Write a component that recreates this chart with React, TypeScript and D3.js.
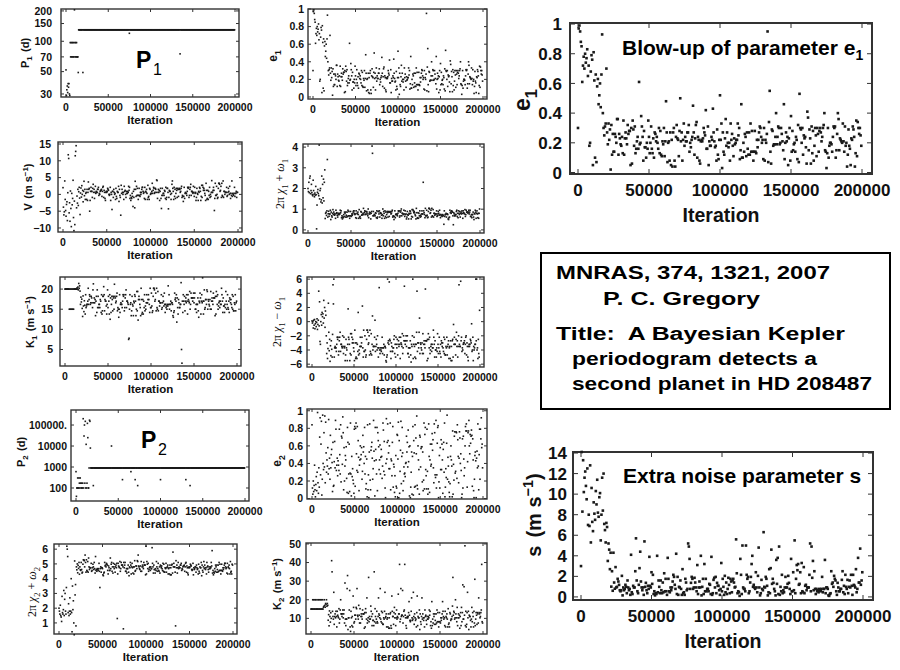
import React from "react";
import * as d3 from "d3";

// MCMC chain, one stored sample every STEP iterations (400 samples, 0 .. 199500)
const STEP = 500;
const X_TICKS = [0, 50000, 100000, 150000, 200000];

const P1_DAYS = [
  52, 29, 33, 36, 31, 38, 35, 38, 30, 29, 97, 70, 97, 70, 97, 70, 97, 70, 97, 70, 205, 97, 70, 97, 70,
  97, 70, 70, 70, 49, 130, 130, 130, 130, 130, 130, 130, 130, 130, 130, 49, 130, 130, 130, 130, 130, 130, 130, 130, 130,
  130, 130, 130, 130, 130, 130, 130, 130, 130, 130, 130, 130, 130, 130, 130, 130, 130, 130, 130, 130, 130, 130, 130, 130, 130,
  130, 130, 130, 130, 130, 130, 130, 130, 130, 130, 130, 130, 130, 130, 130, 130, 130, 130, 130, 130, 130, 130, 130, 130, 130,
  130, 130, 130, 130, 130, 130, 130, 130, 130, 130, 130, 130, 130, 130, 130, 130, 130, 130, 130, 130, 130, 130, 130, 130, 130,
  130, 130, 130, 130, 130, 130, 130, 130, 130, 130, 130, 130, 130, 130, 130, 130, 130, 130, 130, 130, 130, 130, 130, 130, 130,
  120, 130, 130, 130, 130, 130, 130, 130, 130, 130, 130, 130, 130, 130, 130, 130, 130, 130, 130, 130, 130, 130, 130, 130, 130,
  130, 130, 130, 130, 130, 130, 130, 130, 130, 130, 130, 130, 130, 130, 130, 130, 130, 130, 130, 130, 130, 130, 130, 130, 130,
  130, 130, 130, 130, 130, 130, 130, 130, 130, 130, 130, 130, 130, 130, 130, 130, 130, 130, 130, 130, 130, 130, 130, 130, 130,
  130, 130, 130, 130, 130, 130, 130, 130, 130, 130, 130, 130, 130, 130, 130, 130, 130, 130, 130, 130, 130, 130, 130, 130, 130,
  130, 130, 130, 130, 130, 130, 130, 130, 130, 130, 130, 130, 130, 130, 130, 130, 130, 130, 130, 130, 75, 130, 130, 130, 130,
  130, 130, 130, 130, 130, 130, 130, 130, 130, 130, 130, 130, 130, 130, 130, 130, 130, 130, 130, 130, 130, 130, 130, 130, 130,
  130, 130, 130, 130, 130, 130, 130, 130, 130, 130, 130, 130, 130, 130, 130, 130, 130, 130, 130, 130, 130, 130, 130, 130, 130,
  130, 130, 130, 130, 130, 130, 130, 130, 130, 130, 130, 130, 130, 130, 130, 130, 130, 130, 130, 130, 130, 130, 130, 130, 130,
  130, 130, 130, 130, 130, 130, 130, 130, 130, 130, 130, 130, 130, 130, 130, 130, 130, 130, 130, 130, 130, 130, 130, 130, 130,
  130, 130, 130, 130, 130, 130, 130, 130, 130, 130, 130, 130, 130, 130, 130, 130, 130, 130, 130, 130, 130, 130, 130, 130, 130,
];

const E1 = [
  .30, .97, .99, .95, .88, .85, .61, .72, .78, .70, .80, .74, .77, .83, .65, .72, .18, .20, .68, .79, .76, .05, .81, .62, .10,
  .66, .07, .58, .63, .46, .52, .60, .44, .66, .93, .40, .30, .25, .31, .33, .70, .27, .19, .33, .22, .29, .02, .32, .12, .26,
  .14, .14, .26, .24, .20, .36, .36, .12, .26, .23, .19, .18, .24, .13, .35, .12, .23, .27, .23, .19, .32, .26, .28, .28, .05,
  .30, .06, .35, .29, .18, .31, .13, .16, .21, .24, .16, .61, .19, .20, .38, .31, .24, .08, .28, .17, .17, .10, .20, .16, .35,
  .24, .13, .20, .31, .16, .13, .23, .10, .27, .26, .21, .24, .20, .16, .30, .13, .28, .12, .11, .21, .19, .30, .11, .21, .48,
  .27, .07, .20, .21, .08, .27, .05, .22, .04, .27, .30, .08, .04, .24, .32, .23, .22, .11, .28, .50, .21, .27, .08, .22, .33,
  .18, .24, .21, .21, .27, .27, .32, .14, .20, .17, .22, .24, .45, .27, .12, .23, .32, .34, .10, .24, .22, .08, .06, .21, .22,
  .21, .23, .30, .27, .25, .42, .16, .16, .31, .05, .21, .18, .18, .24, .22, .43, .27, .21, .17, .18, .08, .29, .12, .09, .22,
  .52, .22, .33, .03, .27, .14, .12, .23, .36, .18, .27, .20, .17, .20, .08, .33, .22, .26, .18, .11, .23, .19, .20, .22, .22,
  .33, .25, .30, .09, .15, .46, .10, .10, .20, .14, .26, .24, .11, .27, .16, .12, .27, .12, .33, .14, .28, .14, .08, .14, .28,
  .14, .13, .22, .17, .22, .27, .31, .30, .24, .20, .22, .09, .30, .08, .22, .20, .26, .95, .07, .34, .55, .14, .06, .29, .28,
  .18, .19, .19, .24, .40, .19, .24, .31, .30, .19, .20, .30, .26, .21, .15, .46, .09, .20, .27, .21, .24, .05, .23, .30, .08,
  .38, .14, .28, .15, .19, .20, .14, .24, .22, .09, .32, .07, .53, .30, .29, .20, .30, .12, .25, .23, .24, .17, .06, .41, .37,
  .15, .29, .23, .06, .31, .13, .28, .08, .18, .30, .25, .11, .30, .26, .14, .28, .30, .27, .21, .24, .30, .32, .40, .15, .14,
  .03, .13, .30, .10, .18, .20, .20, .19, .14, .24, .31, .30, .31, .10, .15, .26, .40, .36, .15, .23, .22, .21, .20, .33, .21,
  .14, .31, .18, .20, .04, .12, .29, .18, .16, .05, .23, .22, .31, .29, .24, .04, .13, .35, .11, .34, .30, .26, .30, .25, .18,
];

const V_OFFSET = [
  2.0, -3.8, -6.1, -5.2, 4.0, -1.5, -4.8, -6.5, -3.0, -2.2, -7.8, 0.5, 11.8, 10.7, -5.5, -2.5, -8.0, 1.0, -4.2, -9.6, 0.3, -3.1, -1.2, 4.2, -6.9,
  -10.8, -2.0, -9.0, 11.5, 12.8, 14.5, -4.0, -0.5, -2.6, 1.5, -3.3, 0.8, 2.1, -1.1, -6.0, 0.4, 1.9, -0.8, 2.6, 0.0, 1.2, -2.2, 0.9, 3.9, -0.4,
  1.5, -1.5, 0.3, 0.6, -1.5, 1.5, -1.8, 0.6, 3.7, 1.5, 1.8, -5.0, -1.8, 0.9, 2.1, 0.9, 0.9, -0.9, 1.8, 3.0, 0.6, 1.5, -1.2, 0.6, 2.4,
  0.3, 0.9, 0.6, 0.6, 1.5, 1.5, 2.1, -0.3, 0.3, 0.0, 0.9, 1.2, 1.2, 1.5, -0.6, 0.9, 2.1, 2.4, -0.9, 1.2, 0.6, -1.2, -1.8, 0.6, 0.9,
  0.6, 0.9, 1.8, 1.5, 1.2, 0.0, -0.3, 0.0, 2.1, -1.8, 0.6, 0.0, -4.5, 0.9, 0.9, -0.9, 1.5, 0.6, 0.0, 0.3, -1.5, 1.8, -0.6, -1.2, 0.9,
  0.6, 0.6, 2.4, -2.1, 1.5, -0.3, -0.9, -6.2, 2.7, 0.3, 1.5, 0.6, 0.0, 0.6, -1.5, 2.4, 0.9, 1.2, 0.0, -0.9, 0.9, 0.3, 0.3, 0.9, 0.6,
  2.4, 1.2, 2.1, -1.2, -0.3, -1.8, -0.9, -1.2, 0.3, -0.6, -3.6, 0.9, -0.9, 1.5, -4.0, 3.9, 1.5, -0.6, 2.4, -0.3, 1.8, -0.3, -1.5, -0.3, 1.8,
  -0.3, -0.6, 0.6, 0.0, 0.6, 1.5, 2.1, 2.1, 0.9, 0.3, 0.6, -1.2, 2.1, -1.5, 0.9, 0.6, 1.5, 0.3, -1.5, 2.7, -0.9, -0.6, -1.5, 1.8, 1.5,
  0.0, 0.3, 0.3, 0.9, 3.3, 0.3, 1.2, 2.1, 1.8, 0.3, 0.6, 1.8, 1.5, 0.6, 4.3, 4.1, -1.2, 0.6, 1.5, 0.6, 1.2, -1.8, 0.9, 1.8, -1.2,
  -4.2, -0.3, 1.8, -0.3, 0.3, 0.3, -0.3, 1.2, 0.9, -1.2, 2.1, -1.5, -0.9, 1.8, 1.8, 0.6, -4.3, -0.9, 1.2, 0.9, 0.9, 0.0, -1.5, 0.3, 3.0,
  4.0, 1.8, 0.9, -1.5, 2.1, -0.6, 1.5, -1.2, 0.3, 1.8, 1.2, -0.9, 1.8, 1.5, -0.6, 1.5, 1.8, 1.5, 0.6, 0.9, 1.8, 2.4, -0.9, -0.3, -0.6,
  -2.1, -0.6, 2.1, -1.2, 0.3, 0.6, 0.3, 0.3, -0.3, 0.9, 2.1, 1.8, 2.1, -0.9, -0.3, 1.5, 2.1, 3.0, -0.3, 0.9, 0.9, 0.6, 0.3, 2.4, 0.6,
  -0.6, 2.1, 0.3, 0.6, -1.8, -0.9, 1.8, 0.3, 0.0, -1.8, 0.9, 0.6, 2.1, 1.8, 0.9, -1.8, -0.6, 2.7, -0.9, 2.7, 2.1, 1.2, 1.8, 1.2, 0.3,
  -0.3, -1.8, 3.3, 1.2, -1.5, -1.2, 1.2, -1.5, 0.9, -0.3, 2.1, -0.9, 0.0, -0.6, 0.6, 4.1, 0.6, 0.6, 1.2, 2.1, 1.2, -4.8, -1.2, 3.3, -0.3,
  -0.3, 2.4, 0.0, -1.2, -0.9, 1.8, 3.3, 3.3, 3.0, 0.9, 1.2, 2.4, -0.9, 3.3, -0.3, -0.6, 4.0, -0.9, 0.9, 0.9, 0.0, 0.6, 0.6, 0.6, 2.1,
  -0.6, -0.3, 0.6, 1.8, 0.9, 0.0, 2.4, 0.3, -1.2, 0.3, -0.3, 4.0, -0.6, 0.3, 0.0, -0.3, 0.3, 2.1, -0.6, 0.3, 0.3, 0.9, -0.9, 0.6, 0.6,
];

const PHASE1_SUM = [
  2.0, 1.85, 2.3, 1.8, 2.5, 2.6, 1.75, 1.9, 2.2, 1.8, 1.7, 1.65, 2.4, 1.9, 1.72, 1.6, 1.78, 1.68, 2.1, 1.7, 0.05, 1.2, 1.82, 1.95, 1.75,
  1.65, 4.1, 1.5, 1.9, 2.0, 1.35, 1.45, 2.6, 1.3, 2.2, 1.55, 2.45, 1.4, 2.3, 2.9, 0.55, 0.8, 0.85, 0.7, 0.92, 3.4, 0.62, 0.78, 0.9, 0.66,
  .77, .77, .95, .50, .86, .68, .62, .80, .98, .74, .86, .77, .71, .77, .56, .95, .80, .83, .71, .62, .80, .74, .74, .80, .77,
  .95, .83, .92, .59, .68, .53, .62, .59, .74, .65, .86, .80, .62, .86, .71, .62, .86, .65, .95, .68, .89, .68, .56, .68, .89,
  .68, .65, .77, .71, .77, .86, .92, .92, .80, .74, .77, .59, .92, .56, .80, .77, .86, .74, .56, .98, .62, .65, .56, .89, .86,
  .71, .74, .74, .80, 1.04, .74, .83, .92, .89, .74, .77, .89, .86, .77, .68, 1.01, .59, .77, .86, .77, .83, .53, .80, .89, 4.05,
  3.7, .68, .89, .68, .74, .74, .68, .83, .80, .59, .92, .56, .62, .89, .89, .77, .92, .62, .83, .80, .80, .71, .56, .74, 1.01,
  .68, .89, .80, .56, .92, .65, .86, .59, .74, .89, .83, .62, .89, .86, .65, .86, .89, .86, .77, .80, .89, .95, .62, .68, .65,
  .50, .65, .92, .59, .74, .77, .74, .74, .68, .80, .92, .89, .92, .62, .68, .86, .92, 1.01, .68, .80, .80, .77, .74, .95, .77,
  .65, .92, .74, .77, .53, .62, .89, .74, .71, .53, .80, .77, .92, .89, .80, .53, .65, .98, .62, .98, .92, .83, .89, .83, .74,
  .68, .53, 1.04, .83, .56, .59, .83, .56, .80, .68, .92, .62, .71, .65, .77, .92, .77, .77, 2.3, .92, .83, .74, .59, 1.04, .68,
  .68, .95, .71, .59, .62, .89, 1.04, 1.04, 1.01, .80, .83, .95, .62, 1.04, .68, .65, .98, .62, .80, .80, .71, .77, .77, .77, .92,
  .65, .68, .77, .89, .80, .71, .95, .74, .59, .74, .68, .71, .65, .74, .71, .68, .27, .92, .65, .74, .74, .80, .62, .77, .77,
  .74, .53, .50, .59, .62, .95, .83, .86, .80, .92, .89, .86, .68, .25, .83, .77, .68, .68, .74, .74, .89, .95, .65, .80, .59,
  .92, .80, .74, .89, .62, .80, .86, .77, .92, .80, .56, .92, .83, .80, .77, .98, .65, .74, .95, .86, .86, .86, .80, .86, .95,
  .77, .86, .95, .65, .65, .74, .59, .74, .74, .86, .62, .50, .80, .77, .95, .86, .56, .80, .92, .77, .59, .80, .56, .80, 1.01,
];

const K1_AMP = [
  20, 20, 20, 20, 20, 20, 20, 20, 20, 20, 15, 20, 15, 20, 15, 20, 15, 20, 15, 20, 15, 20, 20, 20, 20,
  20, 20, 20, 20.3, 20, 20.5, 19.8, 21.4, 20.2, 20.8, 19.5, 16.2, 18.0, 16.8, 17.5, 15.2, 13.2, 18.3, 15.8, 14.4, 17.1, 16.0, 13.8, 18.6, 15.4,
  15.8, 16.2, 16.2, 17.0, 20.2, 16.2, 17.4, 18.6, 18.2, 16.2, 16.6, 18.2, 17.8, 16.6, 15.4, 19.8, 21.3, 16.6, 17.8, 16.6, 17.4, 13.4, 17.0, 18.2, 14.2,
  19.8, 15.4, 18.2, 15.4, 16.2, 16.2, 15.4, 17.4, 17.0, 14.2, 18.6, 13.8, 14.6, 18.2, 18.2, 20.6, 18.6, 14.6, 17.4, 17.0, 17.0, 15.8, 13.8, 16.2, 19.8,
  15.4, 18.2, 17.0, 13.8, 18.6, 12.5, 17.8, 14.2, 16.2, 18.2, 17.4, 14.6, 18.2, 17.8, 15.0, 21.2, 18.2, 17.8, 16.6, 17.0, 18.2, 19.0, 14.6, 15.4, 15.0,
  13.0, 15.0, 18.6, 14.2, 16.2, 16.6, 16.2, 16.2, 15.4, 17.0, 18.6, 18.2, 18.6, 14.6, 15.4, 17.8, 18.6, 19.8, 15.4, 17.0, 17.0, 16.6, 16.2, 7.5, 7.8,
  15.0, 18.6, 16.2, 16.6, 13.4, 14.6, 18.2, 16.2, 15.8, 13.4, 17.0, 16.6, 18.6, 18.2, 17.0, 13.4, 15.0, 19.4, 14.6, 19.4, 12.3, 17.4, 18.2, 17.4, 16.2,
  15.4, 13.4, 20.2, 17.4, 13.8, 14.2, 17.4, 13.8, 17.0, 15.4, 18.6, 14.6, 15.8, 15.0, 16.6, 18.6, 16.6, 16.6, 17.4, 18.6, 17.4, 16.2, 14.2, 20.2, 15.4,
  15.4, 19.0, 15.8, 14.2, 14.6, 18.2, 20.2, 20.2, 19.8, 17.0, 17.4, 19.0, 14.6, 20.2, 15.4, 15.0, 19.4, 14.6, 17.0, 17.0, 15.8, 16.6, 16.6, 16.6, 18.6,
  15.0, 15.4, 16.6, 18.2, 17.0, 15.8, 19.0, 16.2, 14.2, 16.2, 15.4, 15.8, 15.0, 16.2, 15.8, 20.8, 16.2, 18.6, 15.0, 16.2, 16.2, 17.0, 14.6, 16.6, 16.6,
  16.2, 13.4, 13.0, 14.2, 14.6, 19.0, 17.4, 17.8, 17.0, 18.6, 11.8, 17.8, 15.4, 13.8, 17.4, 16.6, 15.4, 15.4, 16.2, 16.2, 21.6, 5.0, 1.6, 17.0, 14.2,
  18.6, 17.0, 16.2, 18.2, 14.6, 17.0, 17.8, 16.6, 18.6, 17.0, 13.8, 18.6, 17.4, 17.0, 16.6, 19.4, 15.0, 16.2, 19.0, 17.8, 17.8, 17.8, 17.0, 17.8, 19.0,
  16.6, 17.8, 19.0, 15.0, 15.0, 16.2, 14.2, 16.2, 16.2, 17.8, 14.6, 13.0, 17.0, 16.6, 19.0, 17.8, 13.8, 17.0, 18.6, 16.6, 22.8, 17.0, 13.8, 17.0, 19.8,
  15.0, 15.4, 17.4, 17.4, 16.2, 19.8, 19.4, 15.0, 17.4, 17.0, 16.2, 15.8, 17.4, 15.0, 19.4, 15.0, 17.0, 17.8, 17.0, 16.2, 19.0, 17.8, 17.8, 17.8, 13.4,
  18.2, 13.8, 19.4, 18.2, 16.2, 18.6, 15.0, 15.8, 16.6, 17.0, 15.4, 17.0, 16.2, 16.2, 20.2, 18.6, 17.0, 14.2, 17.8, 15.8, 15.8, 14.2, 16.2, 15.4, 19.4,
  17.0, 15.0, 16.2, 18.6, 15.4, 15.0, 17.0, 14.2, 17.8, 17.4, 16.6, 17.4, 16.2, 15.4, 18.6, 15.0, 18.2, 14.6, 14.6, 16.6, 16.2, 18.6, 14.6, 16.6, 17.0,
];

const PHASE1_DIFF = [
  0.1, -0.2, 0.0, -0.9, 0.2, -0.5, 0.3, -1.0, -0.3, 0.0, -0.7, -0.1, 0.4, -1.1, -0.4, 0.2, 4.3, -0.6, 2.8, -2.8, -3.2, 0.0, 1.0, -0.5, 1.3,
  0.7, 1.1, -0.2, 3.0, 0.5, 2.0, -0.8, 1.5, 0.9, -2.0, -4.5, -3.0, -5.2, -3.8, 2.6, -1.5, -4.1, -2.5, -5.6, -3.4, -4.8, -2.7, -3.9, -5.0, -1.8,
  5.2, 2.5, 6.0, -5.0, -3.7, -3.5, -3.7, -3.7, -4.2, -3.2, -2.2, -2.5, -2.2, -4.7, -4.2, -2.7, -2.2, -1.5, -4.2, -3.2, -3.2, -3.5, -3.7, -2.0, -3.5,
  -4.5, -2.2, -3.7, -3.5, -5.5, -4.7, -2.5, -3.7, -4.0, -5.5, -3.2, 1.8, -2.2, -2.5, -3.2, -5.5, -4.5, -1.7, -4.7, -1.7, -2.2, -3.0, -2.5, -3.0, -3.7,
  -4.2, -5.5, -1.2, -3.0, -5.2, -5.0, -3.0, -5.2, -3.2, -4.2, 1.3, -4.7, -4.0, -4.5, -3.5, -2.2, -3.5, -3.5, -3.0, -2.2, 2.2, -3.7, -5.0, -1.2, -4.2,
  -4.2, -2.0, -4.0, -5.0, -4.7, -2.5, -1.2, -1.2, -1.5, -3.2, -3.0, -2.0, -4.7, -1.2, -4.2, -4.5, -1.7, -4.7, -3.2, 0.8, -4.0, -3.5, -3.5, -3.5, -2.2,
  0.2, -4.2, -3.5, -2.5, -3.2, -4.0, -2.0, -3.7, -5.0, -3.7, 4.8, -4.0, -4.5, -3.7, -4.0, -4.2, -3.7, -2.2, -4.5, -3.7, -3.7, -3.2, -4.7, -3.5, -3.5,
  -3.7, -5.5, -5.7, -5.0, -4.7, 6.0, -3.0, -2.7, -3.2, 5.6, -2.5, -2.7, -4.2, -5.2, -3.0, -3.5, -4.2, -4.2, -3.7, -3.7, -2.5, -2.0, -4.5, -3.2, -5.0,
  -2.2, -3.2, -3.7, -2.5, -4.7, -3.2, -2.7, -3.5, -2.2, -3.2, -5.2, -2.2, -3.0, -3.2, -3.5, -1.7, -4.5, -3.7, -2.0, -2.7, 5.0, -2.7, -3.2, -2.7, -2.0,
  -3.5, -2.7, -2.0, -4.5, -4.5, -3.7, -5.0, -3.7, -3.7, -2.7, -4.7, -5.7, -3.2, -3.5, -2.0, 6.0, -5.2, -3.2, -2.2, -3.5, -5.0, -3.2, -5.2, -3.2, -1.5,
  4.3, -4.2, -3.0, -3.0, -3.7, -1.5, 0.5, -4.5, -3.0, -3.2, -3.7, -4.0, -3.0, -4.5, -1.7, -4.5, -3.2, -2.7, -3.2, -3.7, 4.6, -2.7, -2.7, -2.7, -5.5,
  -2.5, -5.2, -1.7, -2.5, -3.7, -2.2, -4.5, -4.0, -3.5, -3.2, -4.2, -3.2, -3.7, -3.7, -1.2, -2.2, -3.2, -5.0, -2.7, -4.0, -4.0, -5.0, -3.7, -4.2, -1.7,
  -3.2, -4.5, -3.7, -2.2, -4.2, -4.5, -3.2, -5.0, -2.7, -3.0, -3.5, -3.0, -3.7, -4.2, -2.2, -4.5, -2.5, -4.7, -4.7, -3.5, -3.7, -2.2, -4.7, -3.5, -3.2,
  -2.7, -5.2, -3.7, -3.5, -5.2, -2.7, -5.5, -3.5, -5.5, -2.7, -2.5, -5.0, -0.4, -3.2, -2.2, -3.2, -3.2, -4.7, -2.5, -1.5, -3.5, -2.7, -5.0, -3.5, -2.0,
  5.2, -3.2, -3.5, -3.5, 5.7, -2.7, -2.2, -4.2, -3.7, -4.0, -3.2, -3.0, -3.0, -2.7, -4.5, -3.2, -2.2, -2.0, -4.7, -3.0, -3.5, -5.0, -5.5, -3.5, -3.2,
  -3.5, -3.2, -2.5, -2.7, -3.0, -0.3, -4.2, -4.0, -2.2, -5.5, -3.5, -4.0, -3.7, -3.2, -3.2, 6.0, -2.7, 6.0, -4.0, -3.7, -5.2, -2.5, -4.5, -5.0, 1.6,
];

const P2_DAYS = [
  600, 40, 100, 100, 300, 100, 100, 300, 170, 100, 300, 170, 100, 170, 100, 100, 170, 200000, 100, 30000, 100000, 170, 150000, 100, 12000,
  100, 170, 120000, 25000, 100, 100, 900, 170000, 150000, 8000, 900, 900, 900, 900, 900, 900, 130, 900, 900, 900, 900, 900, 900, 900, 900,
  900, 900, 900, 900, 900, 900, 900, 900, 900, 900, 900, 900, 900, 900, 900, 900, 900, 900, 900, 900, 900, 900, 900, 900, 900,
  900, 900, 900, 900, 900, 900, 900, 900, 900, 10000, 900, 900, 900, 900, 900, 900, 900, 900, 900, 900, 900, 900, 900, 900, 900,
  900, 900, 900, 900, 900, 900, 900, 900, 900, 900, 250, 900, 900, 900, 900, 900, 900, 900, 900, 900, 900, 900, 900, 900, 900,
  900, 900, 900, 900, 900, 600, 900, 900, 900, 900, 900, 900, 900, 900, 900, 250, 900, 900, 900, 900, 900, 130, 900, 900, 900,
  900, 900, 900, 900, 900, 900, 900, 900, 900, 900, 900, 900, 900, 900, 900, 900, 900, 900, 900, 900, 900, 900, 900, 900, 900,
  900, 900, 900, 900, 900, 900, 900, 900, 900, 900, 900, 900, 900, 900, 900, 900, 900, 900, 900, 900, 900, 900, 900, 900, 900,
  250, 900, 900, 900, 900, 900, 900, 900, 900, 900, 900, 900, 900, 900, 900, 900, 900, 900, 900, 900, 900, 900, 900, 900, 900,
  900, 900, 900, 900, 900, 900, 900, 900, 900, 900, 900, 900, 900, 900, 900, 900, 900, 900, 900, 900, 900, 900, 900, 900, 900,
  900, 900, 900, 900, 900, 900, 900, 900, 900, 900, 250, 900, 900, 900, 900, 900, 900, 900, 900, 900, 130, 900, 900, 900, 900,
  900, 900, 900, 900, 900, 900, 900, 900, 900, 900, 900, 900, 900, 900, 900, 900, 900, 900, 900, 900, 900, 900, 900, 900, 900,
  900, 900, 900, 900, 900, 900, 900, 900, 900, 900, 900, 900, 900, 900, 900, 900, 900, 900, 900, 900, 900, 900, 900, 900, 900,
  900, 900, 900, 900, 900, 900, 900, 900, 900, 900, 900, 900, 900, 900, 900, 900, 900, 900, 900, 900, 900, 900, 900, 900, 900,
  900, 900, 900, 900, 900, 900, 900, 900, 900, 900, 900, 900, 900, 900, 900, 900, 900, 900, 900, 900, 900, 900, 900, 900, 900,
  900, 900, 900, 900, 900, 900, 900, 900, 900, 900, 900, 900, 900, 900, 900, 900, 900, 900, 900, 900, 900, 900, 900, 900, 900,
];

const E2 = [
  .84, .12, .05, .20, .08, .15, .38, .10, .02, .16, .25, .09, .30, .98, .18, .06, .35, .13, .70, .92, .27, .62, .88, .04, .22,
  .95, .40, .33, .75, .36, .94, .18, .87, .52, .30, .44, .37, .58, .28, .90, .34, .46, .22, .72, .35, .50, .56, .41, .08, .64,
  .14, .15, .42, .65, .35, .89, .79, .32, .38, .46, .26, .43, .38, .32, .79, .50, .28, .84, .19, .71, .69, .39, .93, .75, .10,
  .58, .20, .37, .49, .44, .59, .23, .07, .81, .64, .06, .28, .62, .08, .29, .86, .28, .03, .48, .25, .34, .21, .17, .06, .79,
  .82, .14, .80, .86, .51, .32, .82, .30, .66, .47, .09, .38, .44, .60, .45, .50, .58, .22, .31, .72, .53, .59, .40, .81, .28,
  .48, .11, .17, .45, .02, .84, .10, .27, .01, .53, .85, .21, .10, .55, .59, .64, .46, .22, .34, .89, .54, .43, .03, .81, .56,
  .44, .28, .81, .09, .75, .66, .59, .33, .44, .61, .28, .47, .56, .48, .23, .37, .86, .78, .31, .65, .27, .12, .01, .40, .91,
  .45, .64, .85, .66, .52, .34, .60, .34, .86, .10, .45, .43, .26, .64, .82, .13, .39, .36, .07, .26, .02, .49, .14, .12, .73,
  .72, .45, .87, .01, .66, .06, .31, .55, .88, .17, .48, .81, .52, .09, .20, .36, .28, .29, .25, .40, .41, .71, .53, .64, .36,
  .78, .42, .59, .03, .60, .01, .13, .30, .53, .05, .48, .82, .04, .66, .52, .13, .84, .14, .69, .51, .94, .15, .11, .60, .44,
  .33, .05, .72, .70, .36, .57, .59, .59, .19, .53, .09, .21, .86, .11, .73, .81, .33, .26, .11, .79, .31, .05, .11, .85, .48,
  .07, .44, .62, .37, .39, .62, .74, .55, .67, .35, .18, .85, .75, .27, .24, .89, .12, .27, .63, .81, .83, .01, .19, .49, .12,
  .58, .33, .67, .33, .62, .44, .06, .56, .64, .30, .86, .02, .13, .34, .24, .63, .95, .22, .47, .37, .19, .07, .02, .17, .48,
  .60, .44, .37, .02, .77, .05, .39, .21, .71, .76, .29, .31, .76, .75, .23, .84, .67, .48, .18, .46, .76, .69, .40, .51, .32,
  .01, .05, .68, .12, .71, .45, .26, .35, .60, .82, .77, .85, .77, .13, .42, .75, .77, .89, .60, .51, .73, .63, .71, .78, .72,
  .14, .68, .44, .09, .01, .22, .49, .53, .43, .01, .46, .54, .35, .85, .37, .10, .50, .79, .22, .79, .68, .92, .58, .62, .35,
];

const PHASE2_SUM = [
  2.0, 1.8, 1.6, 2.2, 1.5, 1.4, 1.1, 2.8, 1.7, 1.6, 1.9, 3.2, 1.5, 2.6, 3.0, 1.8, 1.6, 3.4, 6.2, 6.0, 5.5, 1.7, 2.3, 1.5, 1.8,
  2.7, 1.6, 1.8, 4.0, 1.7, 0.4, 3.5, 1.9, 2.5, 1.0, 0.2, 5.2, 2.9, 3.6, 0.8, 4.8, 4.6, 5.0, 4.4, 4.9, 4.7, 5.1, 4.3, 4.8, 4.6,
  4.56, 5.1, 4.62, 4.38, 4.44, 4.98, 5.28, 5.28, 5.22, 4.8, 5.6, 5.1, 4.44, 5.28, 4.56, 4.5, 5.16, 4.44, 5.4, 4.8, 4.62, 4.74, 4.74, 4.74, 5.04,
  4.5, 4.56, 4.74, 4.98, 4.8, 4.62, 5.1, 4.68, 4.38, 5.5, 4.56, 4.62, 4.5, 4.68, 4.62, 4.56, 4.68, 5.04, 4.5, 3.4, 4.68, 4.8, 4.44, 4.74, 4.74,
  4.68, 4.26, 4.2, 4.38, 4.44, 5.1, 4.86, 4.92, 4.8, 5.04, 4.98, 4.92, 4.56, 4.32, 4.86, 4.74, 4.56, 4.56, 5.4, 4.68, 4.98, 5.1, 4.5, 4.8, 4.38,
  5.04, 4.8, 4.68, 4.98, 4.44, 4.8, 4.92, 4.74, 5.04, 1.3, 4.32, 5.04, 4.86, 4.8, 4.74, 5.16, 4.5, 4.68, 5.1, 4.92, 4.92, 4.92, 4.8, 0.6, 5.1,
  4.74, 4.92, 5.1, 4.5, 4.5, 4.68, 4.38, 4.68, 4.68, 4.92, 4.44, 4.2, 4.8, 4.74, 5.1, 4.92, 4.32, 4.8, 5.04, 4.74, 4.38, 4.8, 4.32, 4.8, 5.22,
  4.5, 4.56, 4.86, 4.86, 4.68, 5.22, 5.16, 5.6, 4.86, 4.8, 4.68, 4.62, 4.86, 4.5, 5.16, 4.5, 4.8, 4.92, 4.8, 4.68, 5.1, 4.92, 4.92, 4.92, 4.26,
  6.2, 4.32, 5.16, 4.98, 4.68, 5.04, 4.5, 4.62, 4.74, 4.8, 4.56, 4.8, 4.68, 4.68, 6.1, 5.04, 4.8, 4.38, 4.92, 4.62, 4.62, 4.38, 4.68, 4.56, 5.16,
  4.8, 4.5, 4.68, 5.04, 4.56, 4.5, 4.8, 4.38, 4.92, 4.86, 4.74, 4.86, 4.68, 4.56, 5.04, 4.5, 4.98, 4.44, 4.44, 4.74, 4.68, 5.04, 4.44, 4.74, 4.8,
  4.92, 4.32, 4.68, 4.74, 4.32, 4.92, 4.26, 4.74, 4.26, 4.92, 4.98, 4.38, 5.8, 4.8, 5.04, 4.8, 4.8, 4.44, 0.8, 5.22, 4.74, 4.92, 4.38, 4.74, 5.1,
  4.68, 4.8, 4.74, 4.74, 4.92, 4.92, 5.04, 4.56, 4.68, 4.62, 4.8, 4.86, 4.86, 4.92, 4.5, 4.8, 5.04, 5.1, 4.44, 4.86, 4.74, 4.38, 4.26, 4.74, 4.8,
  4.74, 4.8, 4.98, 4.92, 4.86, 4.62, 4.56, 4.62, 5.04, 4.26, 4.74, 4.62, 4.68, 4.8, 4.8, 4.44, 4.92, 4.74, 4.62, 4.68, 4.32, 4.98, 4.5, 4.38, 4.8,
  4.74, 4.74, 5.1, 4.2, 4.92, 4.56, 4.44, 4.8, 5.16, 4.68, 4.92, 4.74, 4.62, 4.74, 4.32, 5.1, 4.8, 4.86, 4.62, 4.44, 4.8, 4.68, 4.68, 4.8, 4.74,
  5.1, 4.86, 5.9, 4.38, 4.56, 4.26, 4.44, 4.38, 4.68, 4.5, 4.92, 4.8, 4.44, 4.92, 4.62, 4.44, 4.92, 4.5, 5.1, 4.56, 4.98, 4.56, 4.32, 4.56, 4.98,
  4.56, 4.5, 4.74, 4.62, 4.74, 4.92, 5.04, 5.04, 4.8, 4.68, 4.74, 4.38, 5.04, 4.32, 4.8, 4.74, 4.92, 4.68, 4.32, 5.16, 4.44, 4.5, 4.32, 4.98, 4.92,
];

const K2_AMP = [
  15, 15, 15, 15, 20, 15, 20, 15, 15, 20, 15, 20, 15, 15, 20, 15, 15, 20, 15, 20, 15, 15, 20, 15, 20,
  15, 15, 20, 15, 16, 16.5, 20, 17, 16, 18, 17.5, 20, 16.5, 18, 17, 9, 12, 6, 14, 11, 8, 13, 10, 41, 35,
  13.8, 11.0, 9.6, 24, 6.8, 11.0, 12.4, 10.3, 13.8, 11.0, 5.4, 13.8, 11.7, 11.0, 10.3, 15.2, 7.5, 9.6, 14.5, 20, 12.4, 12.4, 11.0, 12.4, 14.5,
  10.3, 12.4, 14.5, 7.5, 29, 9.6, 6.1, 9.6, 9.6, 26, 33, 4.0, 10.3, 10.3, 14.5, 25, 5.4, 3, 13.8, 10.3, 6.1, 11.0, 5.4, 22, 15.9,
  7.5, 8.2, 11.7, 11.7, 9.6, 15.9, 15.2, 26, 11.7, 11.0, 9.6, 17, 11.7, 7.5, 15.2, 7.5, 11.0, 12.4, 11.0, 9.6, 14.5, 12.4, 12.4, 12.4, 4.7,
  13.1, 5.4, 15.2, 13.1, 9.6, 21, 7.5, 8.9, 10.3, 32, 8.2, 11.0, 9.6, 9.6, 16.6, 13.8, 11.0, 6.1, 12.4, 8.9, 8.9, 6.1, 35, 8.2, 15.2,
  11.0, 7.5, 9.6, 13.8, 8.2, 7.5, 11.0, 21, 12.4, 11.7, 10.3, 26, 9.6, 8.2, 13.8, 7.5, 13.1, 6.8, 6.8, 10.3, 9.6, 13.8, 24, 10.3, 11.0,
  12.4, 5.4, 9.6, 10.3, 5.4, 12.4, 4.7, 10.3, 4.7, 12.4, 13.1, 6.1, 4.7, 22, 13.8, 11.0, 11.0, 6.8, 13.1, 15.9, 10.3, 12.4, 6.1, 10.3, 14.5,
  9.6, 11.0, 10.3, 23, 12.4, 12.4, 39, 8.2, 9.6, 26, 11.0, 11.7, 11.7, 25, 7.5, 11.0, 13.8, 14.5, 39, 11.7, 10.3, 6.1, 4.7, 10.3, 11.0,
  10.3, 11.0, 13.1, 19, 11.7, 8.9, 8.2, 8.9, 13.8, 21, 10.3, 8.9, 9.6, 24, 11.0, 6.8, 12.4, 10.3, 8.9, 9.6, 5.4, 13.1, 22, 6.1, 11.0,
  10.3, 10.3, 14.5, 4.0, 12.4, 8.2, 6.8, 11.0, 21, 9.6, 12.4, 10.3, 8.9, 10.3, 5.4, 14.5, 11.0, 11.7, 8.9, 6.8, 11.0, 9.6, 9.6, 11.0, 10.3,
  14.5, 11.7, 13.8, 6.1, 8.2, 4.7, 19, 6.1, 9.6, 7.5, 12.4, 11.0, 6.8, 12.4, 8.9, 6.8, 12.4, 7.5, 14.5, 8.2, 13.1, 8.2, 5.4, 8.2, 13.1,
  8.2, 7.5, 10.3, 8.9, 10.3, 12.4, 19, 13.8, 11.0, 9.6, 10.3, 6.1, 13.8, 5.4, 11.0, 10.3, 12.4, 9.6, 5.4, 15.2, 6.8, 7.5, 5.4, 13.1, 12.4,
  8.9, 9.6, 9.6, 11.0, 16.6, 32, 11.7, 13.8, 13.1, 9.6, 10.3, 20, 12.4, 10.3, 8.2, 15.9, 6.1, 10.3, 12.4, 10.3, 11.7, 4.7, 11.0, 13.1, 6.1,
  15.9, 8.2, 13.1, 28, 9.6, 9.6, 27, 11.7, 49, 6.1, 13.8, 5.4, 6.8, 13.1, 24, 10.3, 13.8, 4, 11.7, 11.0, 11.0, 8.9, 5.4, 9.6, 15.9,
  8.2, 13.1, 11.0, 5.4, 13.8, 7.5, 31, 6.1, 9.6, 13.1, 11.7, 6.8, 13.1, 12.4, 7.5, 21, 13.1, 12.4, 10.3, 11.0, 13.1, 14.5, 39, 8.2, 7.5,
];

const S_NOISE = [
  3.0, 14.1, 8.3, 13.3, 10.2, 11.6, 12.2, 10.8, 9.5, 12.5, 7.0, 8.0, 6.9, 12.8, 5.3, 10.6, 7.3, 6.4, 9.2, 8.1, 7.5, 10.3, 9.0, 11.4, 8.2,
  7.8, 9.7, 10.1, 5.5, 8.0, 11.6, 8.4, 12.0, 7.1, 6.5, 5.3, 7.2, 6.8, 3.5, 5.2, 4.6, 2.7, 4.3, 1.0, 2.5, 0.6, 4.3, 1.4, 0.8, 2.9,
  .92, .98, 1.76, 1.5, 1.17, .65, .55, .65, 2.05, .15, .92, .65, .78, 1.18, .98, .36, 1.6, .92, .65, .78, .2, 4.1, .45, .28, 1.08,
  .92, .92, 2.5, 5.7, 1.6, .55, .36, 1.18, 2.8, 4.4, 1.5, .92, .65, .92, .2, 5.4, .98, 1.37, .65, .36, 1.08, .78, 3.9, 1.08, .92,
  2.4, 1.27, 2.15, .28, .55, .15, .36, .28, 4.0, .45, 1.6, .98, .36, 1.6, .65, .36, 1.4, .45, 2.3, .55, 1.76, .55, .2, 3.8, 1.76,
  .55, .45, .92, .65, .92, 1.5, 2.15, 1.95, 1.18, .78, 4.2, .28, 1.95, .2, .98, .92, 1.6, .78, .2, 2.7, .36, .45, .2, 1.76, 1.4,
  .65, .78, 5.2, 4.9, 3.7, .78, 1.37, 1.95, 1.76, .78, .92, 1.86, 1.4, .92, .55, 3.1, .28, .92, 1.5, .92, 4.0, .15, .98, 1.76, .28,
  3.2, .55, 1.76, .55, .78, .78, .55, 1.27, 1.18, .28, 3.9, .2, .36, 1.66, 1.86, .92, 1.95, .36, 1.37, 1.08, 1.08, .65, .2, .78, 3.3,
  .55, 1.76, .98, .2, 2.05, .45, 1.4, .28, .78, 1.86, 1.17, .36, 1.76, 1.5, .45, 1.6, 1.76, 1.4, .92, .98, 5.6, 2.3, .36, .55, .45,
  .1, 3.7, 2.15, .28, 5.0, .92, .78, .78, .55, 5.0, 2.15, 1.76, 1.95, .36, .55, 1.4, 1.95, 3.2, 4.0, .98, 1.18, .92, .78, 2.4, .92,
  .45, 2.05, 4.8, .92, .15, .36, 1.66, .78, .65, 6.3, .98, .92, 1.95, 1.76, 1.08, .15, .45, 2.7, .36, 2.8, 4.6, 1.27, 1.76, 1.37, .78,
  .55, .15, 3.6, 1.27, 3.8, .28, 4.9, .2, .98, .55, 2.15, .36, .65, .45, .92, 1.95, .92, .92, 1.27, 2.05, 1.37, .78, .28, 3.7, .55,
  .55, 2.4, .65, 5.5, .36, 1.76, 3.1, 2.6, 3.2, 1.18, 1.27, 2.4, .36, 3.3, .55, .45, 2.9, .36, 1.08, 1.18, .65, .92, .92, .92, 2.15,
  5.2, .55, 4.9, 1.86, 3.5, .65, 2.5, .78, .28, .78, .55, .65, .45, .78, .65, .55, .78, 1.95, .45, .78, .78, 3.6, .36, .92, .92,
  .78, .15, .1, .28, .36, 2.5, 1.27, 1.4, .98, 2.05, 1.76, 1.6, .55, .2, 1.37, .92, .55, .55, .78, .78, 1.66, 2.5, .45, 1.08, .28,
  2.15, .98, .78, 1.66, .36, .98, 1.6, .92, 2.15, 1.08, .2, 2.15, 1.17, 1.08, .92, 2.7, .45, .78, 3.8, 1.4, 1.4, 4.7, 1.18, 1.6, 2.4,
];

const CITATION_LINES = [
  "MNRAS, 374, 1321, 2007",
  "P. C. Gregory",
  "Title:  A Bayesian Kepler",
  "periodogram detects a",
  "second planet in HD 208487",
];

const SANS = "'Liberation Sans', Arial, Helvetica, sans-serif";
const SERIF = "'Liberation Serif', 'Times New Roman', serif";
const INK = "#111";

type Spec = {
  values: number[];
  box: [number, number, number, number];
  log?: boolean;
  yDomain: [number, number];
  yTicks: number[];
  yTickText: string[];
  big?: boolean;
  yGap: number;
  label: React.ReactNode;
  labelAt: [number, number];
  labelSize: number;
  labelFont?: string;
  labelWeight?: string;
};

// symbol with a subscript, followed by an optional unit "(m s^-1)" or "(d)"
function symbolLabel(sym: string, index: string | null, unit: "d" | "ms" | null, size: number) {
  const s = size * 0.72;
  const parts: React.ReactNode[] = [<tspan key="a">{sym}</tspan>];
  if (index) parts.push(<tspan key="b" dy={size * 0.3} fontSize={s}>{index}</tspan>);
  const back = index ? -size * 0.3 : 0;
  if (unit === "d") parts.push(<tspan key="c" dy={back} dx={size * 0.4}>(d)</tspan>);
  if (unit === "ms") {
    parts.push(<tspan key="c" dy={back} dx={size * 0.4}>(m s</tspan>);
    parts.push(<tspan key="d" dy={-size * 0.4} fontSize={s}>{"\u22121"}</tspan>);
    parts.push(<tspan key="e" dy={size * 0.4}>)</tspan>);
  }
  return parts;
}

function phaseLabel(k: string, op: string, size: number) {
  const s = size * 0.72;
  return [
    <tspan key="a">{"2\u03c0 "}</tspan>,
    <tspan key="b" fontStyle="italic">{"\u03c7"}</tspan>,
    <tspan key="c" dy={size * 0.3} fontSize={s}>{k}</tspan>,
    <tspan key="d" dy={-size * 0.3}>{` ${op} `}</tspan>,
    <tspan key="e" fontStyle="italic">{"\u03c9"}</tspan>,
    <tspan key="f" dy={size * 0.3} fontSize={s}>{k}</tspan>,
  ];
}

const SPECS: Spec[] = [
  { values: P1_DAYS, box: [61, 9, 239, 97], log: true, yDomain: [28, 209], yTicks: [30, 50, 70, 100, 150, 200],
    yTickText: ["30", "50", "70", "100", "150", "200"], yGap: 9,
    label: symbolLabel("P", "1", "d", 11), labelAt: [25, 53], labelSize: 11 },
  { values: E1, box: [308, 9, 487, 99], yDomain: [-0.023, 1.0], yTicks: [0, 0.2, 0.4, 0.6, 0.8, 1],
    yTickText: ["0", "0.2", "0.4", "0.6", "0.8", "1"], yGap: 4,
    label: symbolLabel("e", "1", null, 12), labelAt: [273, 56], labelSize: 12 },
  { values: V_OFFSET, box: [58, 142, 242, 232], yDomain: [-11.2, 15.6], yTicks: [-10, -5, 0, 5, 10, 15],
    yTickText: ["\u221210", "\u22125", "0", "5", "10", "15"], yGap: 7,
    label: symbolLabel("V", null, "ms", 11), labelAt: [28, 187], labelSize: 11 },
  { values: PHASE1_SUM, box: [303, 144, 484, 233], yDomain: [-0.15, 4.15], yTicks: [0, 1, 2, 3, 4],
    yTickText: ["0", "1", "2", "3", "4"], yGap: 5,
    label: phaseLabel("1", "+", 12), labelAt: [280, 184], labelSize: 12, labelFont: SERIF, labelWeight: "normal" },
  { values: K1_AMP, box: [60, 277, 241, 366], yDomain: [0.9, 23], yTicks: [5, 10, 15, 20],
    yTickText: ["5", "10", "15", "20"], yGap: 7,
    label: symbolLabel("K", "1", "ms", 11), labelAt: [30, 322], labelSize: 11 },
  { values: PHASE1_DIFF, box: [307, 277, 484, 367], yDomain: [-6.4, 6.3], yTicks: [-6, -4, -2, 0, 2, 4, 6],
    yTickText: ["\u22126", "\u22124", "\u22122", "0", "2", "4", "6"], yGap: 5,
    label: phaseLabel("1", "\u2212", 12), labelAt: [277, 322], labelSize: 12, labelFont: SERIF, labelWeight: "normal" },
  { values: P2_DAYS, box: [71, 410, 249, 501], log: true, yDomain: [24, 520000], yTicks: [100, 1000, 10000, 100000],
    yTickText: ["100", "1000", "10000", "100000."], yGap: 4,
    label: symbolLabel("P", "2", "d", 11), labelAt: [21, 452], labelSize: 11 },
  { values: E2, box: [307, 409, 487, 499], yDomain: [-0.005, 1.02], yTicks: [0, 0.2, 0.4, 0.6, 0.8, 1],
    yTickText: ["0", "0.2", "0.4", "0.6", "0.8", "1"], yGap: 4,
    label: symbolLabel("e", "2", null, 12), labelAt: [277, 461], labelSize: 12 },
  { values: PHASE2_SUM, box: [54, 544, 237, 634], yDomain: [0.25, 6.35], yTicks: [1, 2, 3, 4, 5, 6],
    yTickText: ["1", "2", "3", "4", "5", "6"], yGap: 6,
    label: phaseLabel("2", "+", 12), labelAt: [32, 592], labelSize: 12, labelFont: SERIF, labelWeight: "normal" },
  { values: K2_AMP, box: [306, 543, 487, 634], yDomain: [1.6, 50.5], yTicks: [10, 20, 30, 40, 50],
    yTickText: ["10", "20", "30", "40", "50"], yGap: 5,
    label: symbolLabel("K", "2", "ms", 11), labelAt: [277, 584], labelSize: 11 },
  { values: E1, box: [570, 23, 872, 174], big: true, yDomain: [-0.01, 1.007], yTicks: [0, 0.2, 0.4, 0.6, 0.8, 1],
    yTickText: ["0", "0.2", "0.4", "0.6", "0.8", "1"], yGap: 8,
    label: symbolLabel("e", "1", null, 23), labelAt: [522, 100], labelSize: 23 },
  { values: S_NOISE, box: [573, 452, 873, 600], big: true, yDomain: [-0.3, 14.1], yTicks: [0, 2, 4, 6, 8, 10, 12, 14],
    yTickText: ["0", "2", "4", "6", "8", "10", "12", "14"], yGap: 6,
    label: symbolLabel("s", null, "ms", 20), labelAt: [534, 515], labelSize: 20 },
];

function Trace({ spec }: { spec: Spec }) {
  const [left, top, right, bottom] = spec.box;
  const big = !!spec.big;
  const x = d3
    .scaleLinear()
    .domain([0, 200000])
    .range(big ? [left + 8, right - 10] : [left + 5, right - 4]);
  const y = (spec.log ? d3.scaleLog() : d3.scaleLinear()).domain(spec.yDomain).range([bottom, top]);
  const tk = big ? 5 : 3;
  const dot = big ? 2.6 : 1.6;
  const tickSize = big ? 17 : 10.5;
  const titleSize = big ? 19.5 : 11.5;
  const tickBase = big ? 22 : 14;
  const titleBase = big ? 48 : 27;

  return (
    <g>
      <rect x={left} y={top} width={right - left} height={bottom - top} fill="#fff" stroke="#333" strokeWidth={big ? 2 : 1.4} />
      {X_TICKS.map((t) => (
        <g key={`xt${t}`} stroke="#333" strokeWidth={1}>
          <line x1={x(t)} x2={x(t)} y1={bottom} y2={bottom - tk} />
          <line x1={x(t)} x2={x(t)} y1={top} y2={top + tk} />
        </g>
      ))}
      {spec.yTicks.map((t) => (
        <g key={`yt${t}`} stroke="#333" strokeWidth={1}>
          <line x1={left} x2={left + tk} y1={y(t)} y2={y(t)} />
          <line x1={right} x2={right - tk} y1={y(t)} y2={y(t)} />
        </g>
      ))}
      <g fill="#1a1a1a">
        {spec.values.map((v, i) => (
          <rect key={i} x={x(i * STEP) - dot / 2} y={y(v) - dot / 2} width={dot} height={dot} />
        ))}
      </g>
      <g fontFamily={SANS} fontWeight="bold" fontSize={tickSize} fill={INK}>
        {X_TICKS.map((t) => (
          <text key={`xl${t}`} x={x(t)} y={bottom + tickBase} textAnchor="middle">
            {d3.format("d")(t)}
          </text>
        ))}
        {spec.yTicks.map((t, k) => (
          <text key={`yl${t}`} x={left - spec.yGap} y={y(t) + tickSize * 0.36} textAnchor="end">
            {spec.yTickText[k]}
          </text>
        ))}
        <text x={(left + right) / 2} y={bottom + titleBase} textAnchor="middle" fontSize={titleSize}>
          Iteration
        </text>
      </g>
      <text
        transform={`translate(${spec.labelAt[0] + spec.labelSize * 0.36},${spec.labelAt[1]}) rotate(-90)`}
        textAnchor="middle"
        fontFamily={spec.labelFont ?? SANS}
        fontWeight={spec.labelWeight ?? "bold"}
        fontSize={spec.labelSize}
        fill={INK}
      >
        {spec.label}
      </text>
    </g>
  );
}

export default function App() {
  return (
    <svg width={900} height={670} viewBox="0 0 900 670" style={{ display: "block", position: "absolute", left: 0, top: 0 }}>
      <rect x={0} y={0} width={900} height={670} fill="#fff" />
      {SPECS.map((s, i) => (
        <Trace key={i} spec={s} />
      ))}

      {/* period annotations */}
      <g fontFamily={SANS} fill="#000">
        <text x={136} y={68} fontSize={23} fontWeight="bold">P</text>
        <text x={153} y={75} fontSize={16}>1</text>
        <text x={141} y={448} fontSize={23} fontWeight="bold">P</text>
        <text x={158} y={455} fontSize={16}>2</text>
      </g>

      {/* panel captions */}
      <g fontFamily={SANS} fontWeight="bold" fill="#000">
        <text x={622} y={55} fontSize={21}>
          <tspan>Blow-up of parameter e</tspan>
          <tspan dy={5} fontSize={14}>1</tspan>
        </text>
        <text x={623} y={483} fontSize={21}>Extra noise parameter s</text>
      </g>

      {/* citation box */}
      <rect x={541} y={253} width={349} height={156} fill="#fff" stroke="#000" strokeWidth={2} />
      <g fontFamily={SANS} fontWeight="bold" fontSize={18} fill="#000">
        <text x={556} y={279} textLength={274} lengthAdjust="spacingAndGlyphs">{CITATION_LINES[0]}</text>
        <text x={603} y={305} textLength={157} lengthAdjust="spacingAndGlyphs">{CITATION_LINES[1]}</text>
        <text x={556} y={340} textLength={289} lengthAdjust="spacingAndGlyphs" style={{ whiteSpace: "pre" }}>{CITATION_LINES[2]}</text>
        <text x={572} y={365} textLength={245} lengthAdjust="spacingAndGlyphs">{CITATION_LINES[3]}</text>
        <text x={572} y={390} textLength={300} lengthAdjust="spacingAndGlyphs">{CITATION_LINES[4]}</text>
      </g>
    </svg>
  );
}
